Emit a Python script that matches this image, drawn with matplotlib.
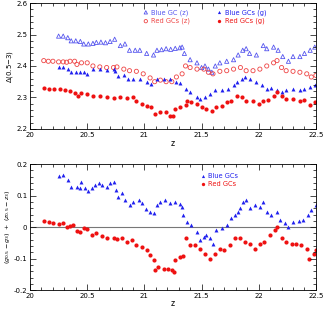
import numpy as np
import matplotlib
matplotlib.use("Agg")
import matplotlib.pyplot as plt
from matplotlib.ticker import MultipleLocator

# top panel: Delta(0.5-3) vs z
bz_x = [20.25, 20.29, 20.33, 20.36, 20.40, 20.44, 20.47, 20.51, 20.55, 20.58, 20.62, 20.66, 20.70, 20.74,
        20.79, 20.83, 20.87, 20.92, 20.96, 21.02, 21.08, 21.11, 21.15, 21.19, 21.23, 21.27, 21.31, 21.33,
        21.35, 21.40, 21.46, 21.50, 21.53, 21.56, 21.59, 21.62, 21.66, 21.72, 21.78, 21.82, 21.86, 21.89,
        21.92, 21.98, 22.04, 22.07, 22.13, 22.17, 22.21, 22.26, 22.30, 22.36, 22.40, 22.45, 22.49]
bz_y = [2.495, 2.495, 2.490, 2.480, 2.480, 2.478, 2.470, 2.470, 2.472, 2.475, 2.476, 2.474, 2.478, 2.485,
        2.465, 2.470, 2.450, 2.450, 2.450, 2.440, 2.435, 2.450, 2.452, 2.455, 2.453, 2.456, 2.458, 2.460,
        2.440, 2.420, 2.410, 2.395, 2.400, 2.390, 2.380, 2.400, 2.410, 2.415, 2.420, 2.435, 2.450, 2.455,
        2.440, 2.435, 2.465, 2.455, 2.460, 2.450, 2.430, 2.415, 2.430, 2.430, 2.440, 2.450, 2.460]

rz_x = [20.12, 20.16, 20.20, 20.25, 20.29, 20.32, 20.35, 20.39, 20.41, 20.45, 20.50, 20.55, 20.61, 20.67,
        20.73, 20.76, 20.82, 20.87, 20.93, 20.99, 21.05, 21.09, 21.14, 21.19, 21.24, 21.28, 21.33, 21.36,
        21.40, 21.46, 21.52, 21.56, 21.60, 21.66, 21.72, 21.78, 21.84, 21.89, 21.95, 22.01, 22.07, 22.13,
        22.16, 22.20, 22.24, 22.30, 22.36, 22.42, 22.46, 22.50]
rz_y = [2.417, 2.415, 2.415, 2.413, 2.413, 2.412, 2.415, 2.415, 2.405, 2.410, 2.410, 2.400, 2.397, 2.395,
        2.395, 2.397, 2.390, 2.385, 2.383, 2.375, 2.362, 2.350, 2.355, 2.350, 2.350, 2.365, 2.375, 2.400,
        2.395, 2.390, 2.390, 2.380, 2.375, 2.383, 2.385, 2.390, 2.395, 2.385, 2.385, 2.390, 2.400, 2.410,
        2.417, 2.395, 2.385, 2.383, 2.380, 2.375, 2.365, 2.370]

bg_x = [20.25, 20.29, 20.33, 20.36, 20.40, 20.44, 20.47, 20.50, 20.55, 20.61, 20.67, 20.73, 20.74, 20.77,
        20.82, 20.86, 20.90, 20.96, 21.02, 21.06, 21.11, 21.17, 21.22, 21.28, 21.31, 21.36, 21.40, 21.46,
        21.49, 21.53, 21.57, 21.62, 21.68, 21.73, 21.78, 21.81, 21.85, 21.88, 21.92, 21.98, 22.03, 22.07,
        22.11, 22.16, 22.20, 22.24, 22.30, 22.36, 22.40, 22.45, 22.49]
bg_y = [2.398, 2.398, 2.390, 2.382, 2.382, 2.382, 2.380, 2.373, 2.390, 2.390, 2.388, 2.390, 2.385, 2.367,
        2.370, 2.360, 2.357, 2.360, 2.350, 2.343, 2.357, 2.357, 2.357, 2.350, 2.345, 2.327, 2.317, 2.300,
        2.295, 2.300, 2.310, 2.322, 2.322, 2.327, 2.338, 2.350, 2.357, 2.365, 2.357, 2.350, 2.338, 2.327,
        2.330, 2.322, 2.317, 2.325, 2.327, 2.325, 2.327, 2.332, 2.338]

rg_x = [20.12, 20.17, 20.21, 20.26, 20.31, 20.35, 20.39, 20.42, 20.45, 20.50, 20.55, 20.61, 20.67, 20.73,
        20.79, 20.85, 20.90, 20.93, 20.98, 21.02, 21.06, 21.09, 21.14, 21.19, 21.22, 21.25, 21.27, 21.31,
        21.36, 21.37, 21.41, 21.46, 21.50, 21.54, 21.59, 21.63, 21.68, 21.72, 21.76, 21.81, 21.85, 21.89,
        21.95, 22.00, 22.04, 22.08, 22.13, 22.16, 22.20, 22.24, 22.30, 22.36, 22.40, 22.45, 22.49]
rg_y = [2.330, 2.327, 2.327, 2.327, 2.322, 2.320, 2.313, 2.306, 2.313, 2.310, 2.306, 2.306, 2.300, 2.298,
        2.300, 2.297, 2.300, 2.290, 2.280, 2.274, 2.269, 2.246, 2.255, 2.253, 2.242, 2.240, 2.264, 2.270,
        2.277, 2.290, 2.285, 2.280, 2.269, 2.264, 2.258, 2.269, 2.274, 2.285, 2.290, 2.306, 2.300, 2.288,
        2.290, 2.280, 2.290, 2.292, 2.306, 2.317, 2.306, 2.295, 2.295, 2.290, 2.292, 2.277, 2.285]

# bottom panel: (g0.5-g3) + (z0.5-z3)
bb_x = [20.25, 20.29, 20.33, 20.36, 20.41, 20.44, 20.45, 20.48, 20.51, 20.54, 20.57, 20.60, 20.63, 20.67,
        20.70, 20.73, 20.75, 20.77, 20.80, 20.83, 20.87, 20.90, 20.95, 20.98, 21.01, 21.05, 21.08, 21.11,
        21.14, 21.18, 21.22, 21.27, 21.31, 21.33, 21.34, 21.37, 21.41, 21.46, 21.49, 21.52, 21.54, 21.57,
        21.60, 21.63, 21.68, 21.72, 21.76, 21.79, 21.82, 21.84, 21.86, 21.89, 21.92, 21.97, 22.01, 22.04,
        22.07, 22.11, 22.16, 22.19, 22.23, 22.26, 22.30, 22.35, 22.39, 22.43, 22.46, 22.50]
bb_y = [0.163, 0.166, 0.148, 0.128, 0.128, 0.125, 0.143, 0.123, 0.113, 0.123, 0.134, 0.140, 0.135, 0.128,
        0.140, 0.143, 0.118, 0.097, 0.107, 0.086, 0.070, 0.081, 0.086, 0.075, 0.056, 0.049, 0.044, 0.070,
        0.081, 0.086, 0.075, 0.081, 0.073, 0.065, 0.038, 0.017, 0.006, -0.015, -0.041, -0.031, -0.026, -0.036,
        -0.052, -0.010, -0.004, 0.006, 0.028, 0.038, 0.049, 0.060, 0.081, 0.086, 0.060, 0.070, 0.065, 0.081,
        0.049, 0.038, 0.049, 0.022, 0.012, 0.001, 0.017, 0.020, 0.022, 0.038, 0.054, 0.070]

rb_x = [20.12, 20.17, 20.20, 20.25, 20.29, 20.32, 20.35, 20.38, 20.41, 20.44, 20.47, 20.50, 20.54, 20.58,
        20.63, 20.67, 20.73, 20.76, 20.80, 20.85, 20.89, 20.93, 20.98, 21.02, 21.05, 21.08, 21.09, 21.12,
        21.17, 21.21, 21.24, 21.26, 21.27, 21.31, 21.34, 21.36, 21.40, 21.44, 21.49, 21.53, 21.57, 21.62,
        21.66, 21.70, 21.75, 21.79, 21.84, 21.88, 21.92, 21.97, 22.01, 22.05, 22.10, 22.14, 22.16, 22.20,
        22.24, 22.29, 22.33, 22.37, 22.42, 22.44, 22.48, 22.50]
rb_y = [0.019, 0.016, 0.014, 0.010, 0.012, -0.001, 0.003, 0.006, -0.013, -0.015, -0.004, -0.007, -0.026, -0.020,
        -0.029, -0.033, -0.033, -0.039, -0.036, -0.047, -0.041, -0.057, -0.063, -0.073, -0.089, -0.105, -0.137, -0.127,
        -0.132, -0.132, -0.137, -0.143, -0.105, -0.095, -0.093, -0.033, -0.057, -0.057, -0.068, -0.084, -0.100, -0.084,
        -0.068, -0.073, -0.057, -0.036, -0.033, -0.047, -0.052, -0.068, -0.052, -0.047, -0.026, -0.010, -0.001, -0.033,
        -0.047, -0.052, -0.054, -0.057, -0.068, -0.100, -0.084, -0.073]

blue = "#2020ee"
lblue = "#5555ee"
red = "#ee1111"
lred = "#ee4444"

plt.rcParams["font.family"] = "DejaVu Sans"
fig = plt.figure(figsize=(3.23, 3.09), dpi=100)
ax1 = fig.add_axes([0.093, 0.583, 0.885, 0.407])
ax2 = fig.add_axes([0.093, 0.061, 0.885, 0.408])

ax1.scatter(bz_x, bz_y, marker="^", s=9, facecolors="none", edgecolors=lblue, linewidths=0.6, label="Blue GC (z)")
ax1.scatter(rz_x, rz_y, marker="o", s=9, facecolors="none", edgecolors=lred, linewidths=0.6, label="Red GCs (z)")
ax1.scatter(bg_x, bg_y, marker="^", s=8, color=blue, linewidths=0, label="Blue GCs (g)")
ax1.scatter(rg_x, rg_y, marker="o", s=9, color=red, linewidths=0, label="Red GCs (g)")

leg1 = ax1.legend(loc="upper left", bbox_to_anchor=(0.37, 1.0), ncol=2, fontsize=4.8, frameon=False,
                  handletextpad=0.2, columnspacing=3.8, markerscale=0.8, labelspacing=0.35,
                  handlelength=1.2)
for t, c in zip(leg1.get_texts(), [lblue, lred, blue, red]):
    t.set_color(c)

ax1.set_xlim(20, 22.5)
ax1.set_ylim(2.2, 2.6)
ax1.set_xlabel("z", fontsize=5.5, labelpad=1)
ax1.set_ylabel(r"$\Delta$(0.5$-$3)", fontsize=5, labelpad=1)
ax1.yaxis.set_major_locator(MultipleLocator(0.1))
ax1.yaxis.set_minor_locator(MultipleLocator(0.02))

ax2.axhline(0, color="#777777", lw=0.8, zorder=0)
ax2.scatter(bb_x, bb_y, marker="^", s=8, color=blue, linewidths=0, label="Blue GCs")
ax2.scatter(rb_x, rb_y, marker="o", s=9, color=red, linewidths=0, label="Red GCs")
leg2 = ax2.legend(loc="upper left", bbox_to_anchor=(0.57, 0.98), fontsize=4.8, frameon=False,
                  handletextpad=0.2, markerscale=0.8, labelspacing=0.35, handlelength=1.2)
for t, c in zip(leg2.get_texts(), [blue, red]):
    t.set_color(c)

ax2.set_xlim(20, 22.5)
ax2.set_ylim(-0.2, 0.2)
ax2.set_xlabel("z", fontsize=5.5, labelpad=0)
ax2.set_ylabel(r"$(g_{0.5}-g_3)\ +\ (z_{0.5}-z_3)$", fontsize=4.6, labelpad=1)
ax2.yaxis.set_major_locator(MultipleLocator(0.1))
ax2.yaxis.set_minor_locator(MultipleLocator(0.02))

for ax in (ax1, ax2):
    ax.xaxis.set_major_locator(MultipleLocator(0.5))
    ax.xaxis.set_minor_locator(MultipleLocator(0.1))
    ax.tick_params(which="both", direction="in", top=True, right=True, labelsize=5, pad=2, width=0.5)
    ax.tick_params(which="major", length=4)
    ax.tick_params(which="minor", length=2)
    ax.xaxis.set_major_formatter(plt.FuncFormatter(lambda v, p: f"{v:g}"))
    ax.yaxis.set_major_formatter(plt.FuncFormatter(lambda v, p: f"{v:g}"))
    for s in ax.spines.values():
        s.set_linewidth(0.6)

fig.savefig("out.png", dpi=100)
